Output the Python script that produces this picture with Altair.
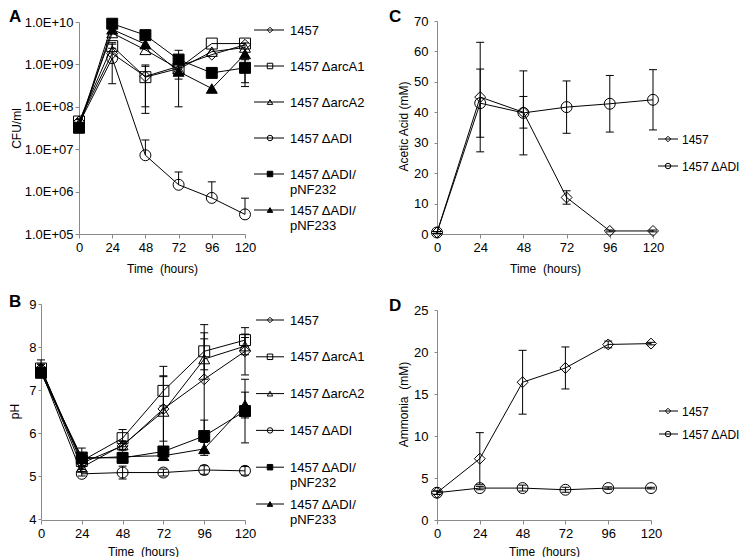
import altair as alt
import pandas as pd

GRAY = "#8a8a8a"
times = [0, 24, 48, 72, 96, 120]

names = ["1457", "1457 ΔarcA1", "1457 ΔarcA2", "1457 ΔADI",
         "1457 ΔADI/pNF232", "1457 ΔADI/pNF233"]
legend_labels = ["1457", "1457 ΔarcA1", "1457 ΔarcA2", "1457 ΔADI",
                 "1457 ΔADI/\npNF232", "1457 ΔADI/\npNF233"]
shapes = ["diamond", "square", "triangle-up", "circle", "square", "triangle-up"]
fills = ["transparent", "transparent", "transparent", "transparent", "black", "black"]

# Panel A: CFU/ml
cfu_1457 = [4.5e7, 1.8e9, 5.2e8, 9.0e8, 1.7e9, 2.9e9]
cfu_arcA1 = [4.5e7, 2.7e9, 5.0e8, 8.0e8, 3.1e9, 3.1e9]
cfu_arcA2 = [4.0e7, 5.5e9, 2.2e9, 7.8e8, 2.0e9, 2.5e9]
cfu_ADI = [4.0e7, 1.4e9, 7.2e6, 1.45e6, 7.1e5, 2.9e5]
cfu_232 = [3.2e7, 9.1e9, 4.9e9, 1.3e9, 6.3e8, 8.3e8]
cfu_233 = [3.2e7, 6.7e9, 3.0e9, 6.8e8, 2.7e8, 1.75e9]
cfu_1457_err = [5e6, 1.45e9, 4.5e8, 0, 0, 0]
cfu_arcA1_err = [0, 3e8, 4e8, 0, 0, 0]
cfu_arcA2_err = [0, 0, 0, 0, 0, 0]
cfu_ADI_err = [0, 0, 9.3e6, 1.45e6, 9.9e5, 4.1e5]
cfu_232_err = [0, 0, 0, 8.5e8, 0, 4.6e8]
cfu_233_err = [0, 0, 0, 5.8e8, 0, 1.45e9]

# Panel B: pH
ph_1457 = [7.5, 5.3, 5.7, 6.56, 7.25, 7.9]
ph_arcA1 = [7.5, 5.35, 5.88, 6.98, 7.9, 8.16]
ph_arcA2 = [7.5, 5.2, 5.72, 6.5, 7.72, 8.02]
ph_ADI = [7.45, 5.05, 5.08, 5.08, 5.14, 5.12]
ph_232 = [7.4, 5.43, 5.42, 5.57, 5.93, 6.51]
ph_233 = [7.4, 5.4, 5.45, 5.47, 5.63, 6.65]
ph_1457_err = [0.1, 0.15, 0.1, 0.75, 1.27, 0.55]
ph_arcA1_err = [0.2, 0.1, 0.2, 0.35, 0.43, 0.14]
ph_arcA2_err = [0.1, 0.1, 0.1, 1.05, 0.47, 0.2]
ph_ADI_err = [0.05, 0.05, 0.15, 0.08, 0.1, 0.1]
ph_232_err = [0.1, 0.22, 0.1, 0.1, 0.37, 0.74]
ph_233_err = [0.1, 0.1, 0.1, 0.1, 0.15, 0.3]

# Panel C: acetic acid (mM)
ac_1457 = [0.5, 45, 40, 12, 1.0, 1.0]
ac_ADI = [0.5, 43, 39.8, 41.7, 42.8, 44.1]
ac_1457_err = [0.3, 18, 5.2, 2.2, 0.3, 0.3]
ac_ADI_err = [0.3, 11.2, 13.8, 8.6, 9.3, 9.9]

# Panel D: ammonia (mM)
am_1457 = [3.25, 7.3, 16.4, 18.1, 20.9, 21.0]
am_ADI = [3.25, 3.8, 3.8, 3.6, 3.8, 3.8]
am_1457_err = [0.2, 3.1, 3.8, 2.5, 0.4, 0.15]
am_ADI_err = [0.2, 0.2, 0.35, 0.3, 0.15, 0.1]


def build(series, vals, errs, log=False):
    pts, bars, caps = [], [], []
    for s, vs, es in zip(series, vals, errs):
        for t, v, e in zip(times, vs, es):
            pts.append({"series": s, "t": t, "v": v})
            if e > 0:
                hi = v + e
                lo = v - e
                if log and lo <= 0:
                    lo = v
                else:
                    caps.append({"t": t, "y": lo})
                bars.append({"t": t, "lo": lo, "hi": hi})
                caps.append({"t": t, "y": hi})
    return pd.DataFrame(pts), pd.DataFrame(bars), pd.DataFrame(caps)


def panel(data, width, height, xrange, yoffset, ydomain, yrange, ytype, yvalues, ytitle,
          ytitle_x, ytitle_y, label_pad, tick_size, letter, letter_x, letter_y,
          xtitle_y=34, ylabel_size=13, label_expr=None):
    pts, bars, caps = data
    xs = alt.Scale(domain=[0, 120], range=xrange, nice=False)
    xa = alt.Axis(values=times, title="Time\u00a0 (hours)", titleY=xtitle_y,
                  titleBaseline="middle", titleFontSize=12, titleFontWeight="normal",
                  titleColor="black", labelFontSize=13, labelColor="black",
                  labelPadding=3, labelFlush=False, labelOverlap=False, tickSize=4,
                  tickColor=GRAY, domainColor=GRAY, grid=False)
    ys = alt.Scale(type=ytype, domain=ydomain, range=yrange, nice=False)
    ya_kw = dict(values=yvalues, title=ytitle, titleX=ytitle_x, titleY=ytitle_y,
                 titleAngle=270, titleAlign="center", titleBaseline="middle",
                 titleFontSize=12, titleFontWeight="normal", titleColor="black",
                 labelFontSize=ylabel_size, labelColor="black", labelPadding=label_pad,
                 labelOverlap=False, tickSize=tick_size, tickColor=GRAY,
                 domainColor=GRAY, grid=False, offset=yoffset)
    if label_expr:
        ya_kw["labelExpr"] = label_expr
    ya = alt.Axis(**ya_kw)

    def X():
        return alt.X("t:Q", scale=xs, axis=xa)

    def Y(f):
        return alt.Y(f, scale=ys, axis=ya)

    shape_enc = alt.Shape("series:N", scale=alt.Scale(domain=names, range=shapes), legend=None)
    fill_enc = alt.Fill("series:N", scale=alt.Scale(domain=names, range=fills), legend=None)

    line = alt.Chart(pts).mark_line(color="black", strokeWidth=1).encode(
        x=X(), y=Y("v:Q"), detail="series:N")
    rule = alt.Chart(bars).mark_rule(color="black", strokeWidth=1).encode(
        x=X(), y=Y("lo:Q"), y2="hi:Q")
    cap = alt.Chart(caps).mark_point(shape="M-1,0L1,0", size=64, filled=False,
                                     color="black", strokeWidth=1, opacity=1).encode(
        x=X(), y=Y("y:Q"))
    points = alt.Chart(pts).mark_point(filled=True, size=120, stroke="black",
                                       strokeWidth=1, opacity=1).encode(
        x=X(), y=Y("v:Q"), shape=shape_enc, fill=fill_enc)
    lab = alt.Chart(pd.DataFrame({"l": [letter]})).mark_text(
        align="left", baseline="top", fontSize=17, fontWeight="bold", color="black"
    ).encode(text="l:N", x=alt.value(letter_x), y=alt.value(letter_y))
    return alt.layer(rule, line, cap, points, lab).properties(width=width, height=height)


def legend(sub_names, sub_labels, yrange, x1, x2, xm, xt, fsize, width, height):
    ldf = pd.DataFrame({"series": sub_names, "label": sub_labels})
    yenc = alt.Y("series:N", scale=alt.Scale(type="point", domain=sub_names,
                                             range=yrange, padding=0), axis=None)
    shape_enc = alt.Shape("series:N", scale=alt.Scale(domain=names, range=shapes), legend=None)
    fill_enc = alt.Fill("series:N", scale=alt.Scale(domain=names, range=fills), legend=None)
    rule = alt.Chart(ldf).mark_rule(color="black", strokeWidth=1).encode(
        y=yenc, x=alt.value(x1), x2=alt.value(x2))
    pt = alt.Chart(ldf).mark_point(filled=True, size=30, stroke="black",
                                   strokeWidth=1, opacity=1).encode(
        y=yenc, x=alt.value(xm), shape=shape_enc, fill=fill_enc)
    txt = alt.Chart(ldf).mark_text(align="left", baseline="alphabetic", dy=4.5,
                                   fontSize=fsize, lineBreak="\n", lineHeight=15,
                                   color="black").encode(
        y=yenc, x=alt.value(xt), text="label:N")
    return alt.layer(rule, pt, txt).properties(width=width, height=height)


dA = build(names, [cfu_1457, cfu_arcA1, cfu_arcA2, cfu_ADI, cfu_232, cfu_233],
           [cfu_1457_err, cfu_arcA1_err, cfu_arcA2_err, cfu_ADI_err, cfu_232_err, cfu_233_err],
           log=True)
dB = build(names, [ph_1457, ph_arcA1, ph_arcA2, ph_ADI, ph_232, ph_233],
           [ph_1457_err, ph_arcA1_err, ph_arcA2_err, ph_ADI_err, ph_232_err, ph_233_err])
two = [names[0], names[3]]
two_labels = [legend_labels[0], legend_labels[3]]
dC = build(two, [ac_1457, ac_ADI], [ac_1457_err, ac_ADI_err])
dD = build(two, [am_1457, am_ADI], [am_1457_err, am_ADI_err])

H1, H2 = 213, 216

pA = panel(dA, 204, H1, [38, 204], -38, [1e5, 1e10], [213, 1], "log",
           [1e5, 1e6, 1e7, 1e8, 1e9, 1e10], "CFU/ml", -63, 107, 2, 4,
           "A", -32, -12, ylabel_size=13,
           label_expr="'1.0E+' + (datum.value < 1e10 ? '0' : '') + format(log(datum.value)/LN10, '.0f')")
pB = panel(dB, 204, H2, [0, 204], 0, [4, 9], [215, 0], "linear", [4, 5, 6, 7, 8, 9], "pH",
           -27, 107, 2, 3, "B", -32, -10, xtitle_y=31)
pC = panel(dC, 216, H1, [0, 216], 0, [0, 70], [213, 0], "linear", [0, 10, 20, 30, 40, 50, 60, 70],
           "Acetic Acid (mM)", -34, 105, 6, 3, "C", -48, -12)
pD = panel(dD, 214, H2, [0, 214], 0, [0, 25], [216, 6], "linear", [0, 5, 10, 15, 20, 25],
           "Ammonia\u00a0 (mM)", -34, 100, 6, 3, "D", -48, -6, xtitle_y=31)

lA = legend(names, legend_labels, [9, 189], 9, 39, 25, 45, 13, 192, H1)
lB = legend(names, legend_labels, [16, 200], 11, 39, 25, 45, 13, 192, H2)
lC = legend(two, two_labels, [118, 145], 5, 25, 15, 29, 12, 88, H1)
lD = legend(two, two_labels, [107, 130], 6, 25, 15, 29, 12, 88, H2)

chart = alt.concat(pA, lA, pC, lC, pB, lB, pD, lD, columns=4,
                   spacing={"row": 70, "column": 0}, bounds="flush",
                   padding=0).configure(font="Liberation Sans").configure_view(stroke=None)

chart.save("out.html", embed_options={"renderer": "svg", "actions": False})
